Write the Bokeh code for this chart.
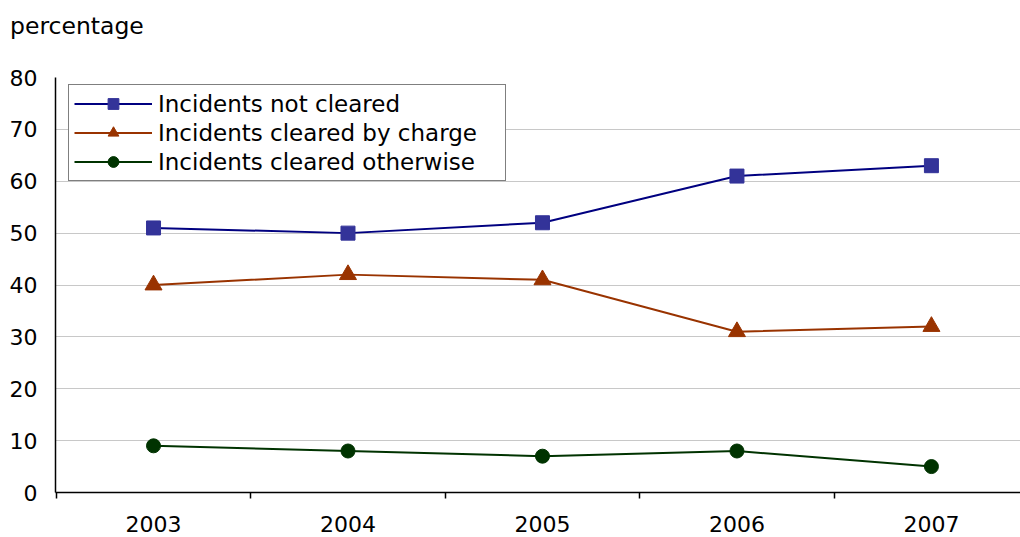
from bokeh.plotting import figure
from bokeh.layouts import column
from bokeh.models import FixedTicker, Range1d, Legend, LegendItem, Div
from bokeh.embed import file_html
from bokeh.resources import INLINE

years = [2003, 2004, 2005, 2006, 2007]
not_cleared = [51, 50, 52, 61, 63]
cleared_by_charge = [40, 42, 41, 31, 32]
cleared_otherwise = [9, 8, 7, 8, 5]
y_ticks = [0, 10, 20, 30, 40, 50, 60, 70, 80]

FONT = "DejaVu Sans"

# unit caption above the chart
caption = Div(text="percentage", width=1020, height=50, margin=(0, 0, 0, 0),
              styles={"font-family": FONT, "font-size": "23.5px", "color": "black",
                      "padding-left": "10px", "padding-top": "12px", "line-height": "28px"})

p = figure(width=1020, height=487, output_backend="svg", toolbar_location=None,
           x_range=Range1d(2002.496, 2007.458), y_range=Range1d(0, 80),
           min_border_left=55, min_border_right=0, min_border_top=27, min_border_bottom=45,
           margin=(0, 0, 0, 0))
p.outline_line_color = None
p.background_fill_color = "white"

# vertical axis
p.yaxis.ticker = FixedTicker(ticks=y_ticks)
p.yaxis.major_tick_line_color = None
p.yaxis.minor_tick_line_color = None
p.yaxis.axis_line_color = "black"
p.yaxis.axis_line_width = 1.5
p.yaxis.major_label_text_font = FONT
p.yaxis.major_label_text_font_size = "22px"
p.yaxis.major_label_text_color = "black"
p.yaxis.major_label_standoff = 12

# horizontal axis: labels at year centres, ticks between years
p.xaxis.ticker = FixedTicker(ticks=years,
                             minor_ticks=[2002.5, 2003.5, 2004.5, 2005.5, 2006.5, 2007.5])
p.xaxis.major_tick_line_color = None
p.xaxis.major_tick_out = 0
p.xaxis.major_tick_in = 0
p.xaxis.minor_tick_line_color = "black"
p.xaxis.minor_tick_line_width = 1.5
p.xaxis.minor_tick_out = 6
p.xaxis.minor_tick_in = 0
p.xaxis.axis_line_color = "black"
p.xaxis.axis_line_width = 1.5
p.xaxis.major_label_text_font = FONT
p.xaxis.major_label_text_font_size = "22px"
p.xaxis.major_label_text_color = "black"
p.xaxis.major_label_standoff = 17

p.xgrid.grid_line_color = None
p.ygrid.ticker = FixedTicker(ticks=y_ticks)
p.ygrid.grid_line_color = "#c8c8c8"
p.ygrid.grid_line_width = 1

series = [
    ("Incidents not cleared", not_cleared, "#000080", "#333399", "square", 14),
    ("Incidents cleared by charge", cleared_by_charge, "#993300", "#993300", "triangle", 17),
    ("Incidents cleared otherwise", cleared_otherwise, "#003300", "#003300", "circle", 14),
]

items = []
for label, vals, lc, mc, marker, size in series:
    ln = p.line(years, vals, line_color=lc, line_width=2)
    mk = p.scatter(years, vals, marker=marker, size=size, fill_color=mc, line_color=mc)
    items.append(LegendItem(label=label, renderers=[ln, mk]))

legend = Legend(items=items, location=(13, 311))
legend.label_text_font = FONT
legend.label_text_font_size = "23px"
legend.label_text_color = "black"
legend.border_line_color = "black"
legend.border_line_width = 1
legend.background_fill_alpha = 1
legend.glyph_width = 78
legend.glyph_height = 27
legend.label_height = 27
legend.label_width = 342
legend.spacing = 2
legend.padding = 5
legend.margin = 0
legend.label_standoff = 6
legend.label_text_baseline = "middle"
p.add_layout(legend, "center")

page = column(caption, p, spacing=0, margin=(0, 0, 0, 0))
open("out.html", "w").write(file_html(page, INLINE))
